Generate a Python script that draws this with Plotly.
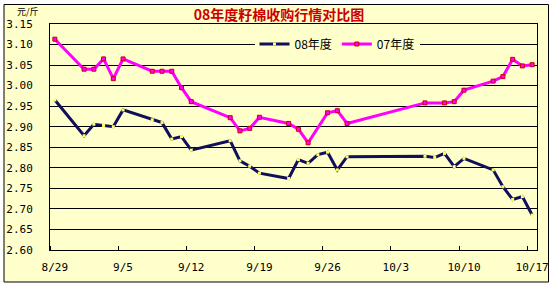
import plotly.graph_objects as go
import pandas as pd

# ---- data ----
dates_08 = ["2008-08-29", "2008-09-01", "2008-09-02", "2008-09-03", "2008-09-04", "2008-09-05",
            "2008-09-08", "2008-09-09", "2008-09-10", "2008-09-11", "2008-09-12", "2008-09-16",
            "2008-09-17", "2008-09-18", "2008-09-19", "2008-09-22", "2008-09-23", "2008-09-24",
            "2008-09-25", "2008-09-26", "2008-09-27", "2008-09-28", "2008-10-06", "2008-10-07",
            "2008-10-08", "2008-10-09", "2008-10-10", "2008-10-13", "2008-10-14", "2008-10-15",
            "2008-10-16", "2008-10-17"]
values_08 = [2.965, 2.878, 2.906, 2.903, 2.900, 2.941,
             2.917, 2.910, 2.870, 2.876, 2.843, 2.866,
             2.817, 2.804, 2.787, 2.774, 2.820, 2.811,
             2.832, 2.838, 2.795, 2.827, 2.828, 2.825,
             2.835, 2.803, 2.823, 2.795, 2.754, 2.723,
             2.730, 2.685]

dates_07 = ["2008-08-29", "2008-09-01", "2008-09-02", "2008-09-03", "2008-09-04", "2008-09-05",
            "2008-09-08", "2008-09-09", "2008-09-10", "2008-09-11", "2008-09-12", "2008-09-16",
            "2008-09-17", "2008-09-18", "2008-09-19", "2008-09-22", "2008-09-23", "2008-09-24",
            "2008-09-26", "2008-09-27", "2008-09-28", "2008-10-06", "2008-10-08", "2008-10-09",
            "2008-10-10", "2008-10-13", "2008-10-14", "2008-10-15", "2008-10-16", "2008-10-17"]
values_07 = [3.113, 3.040, 3.040, 3.065, 3.017, 3.065,
             3.035, 3.035, 3.035, 2.995, 2.961, 2.922,
             2.890, 2.896, 2.923, 2.908, 2.894, 2.861,
             2.934, 2.939, 2.908, 2.958, 2.958, 2.961,
             2.989, 3.011, 3.022, 3.064, 3.048, 3.051]

tick_dates = ["2008-08-29", "2008-09-05", "2008-09-12", "2008-09-19",
              "2008-09-26", "2008-10-03", "2008-10-10", "2008-10-17"]
tick_labels = ["8/29", "9/5", "9/12", "9/19", "9/26", "10/3", "10/10", "10/17"]

series_names = ["08年度", "07年度"]
title_text = "08年度籽棉收购行情对比图"
unit_text = "元/斤"

# ---- layout constants (pixels) ----
W, H = 560, 286
L, R, T, B = 50, 23, 24, 36
pw, ph = W - L - R, H - T - B

def px_to_paper_x(px):
    return (px - L) / pw

def px_to_paper_y(py):
    return (H - B - py) / ph

BG = "#FFFFCC"
mono = "DejaVu Sans Mono"
cjk = "Noto Sans CJK SC"

fig = go.Figure()

fig.add_trace(go.Scatter(
    x=pd.to_datetime(dates_08), y=values_08, name=series_names[0], mode="lines+markers",
    line=dict(color="#10105A", width=3),
    marker=dict(symbol="square", size=3, color="#FFFF66", line=dict(width=0)),
))
fig.add_trace(go.Scatter(
    x=pd.to_datetime(dates_07), y=values_07, name=series_names[1], mode="lines+markers",
    line=dict(color="#FF00FF", width=3),
    marker=dict(symbol="square", size=4, color="#FF00FF", line=dict(color="#CC0000", width=1)),
))

start = pd.Timestamp("2008-08-29") - pd.Timedelta(hours=12)
end = pd.Timestamp("2008-10-17") + pd.Timedelta(hours=12)

fig.update_xaxes(
    type="date",
    range=[start, end],
    tickvals=pd.to_datetime(tick_dates), ticktext=tick_labels,
    ticks="", showgrid=False, automargin=False,
    showline=True, linecolor="black", linewidth=1, mirror=True,
    tickfont=dict(family=mono, size=11, color="black"),
    ticklabelstandoff=7,
    minor=dict(tick0=start, dtick=7 * 86400000, ticks="inside", ticklen=4,
               tickcolor="black", showgrid=False),
)
fig.update_yaxes(
    range=[2.60, 3.15], dtick=0.05, tick0=2.60, tickformat=".2f",
    showgrid=True, gridcolor="black", gridwidth=1, automargin=False,
    showline=True, linecolor="black", linewidth=1, mirror=True,
    zeroline=False, ticks="",
    tickfont=dict(family=mono, size=11, color="black"),
    ticklabelstandoff=14,
)

fig.add_shape(
    type="rect", xref="paper", yref="paper", layer="below",
    x0=px_to_paper_x(4), x1=px_to_paper_x(548.5),
    y0=px_to_paper_y(282), y1=px_to_paper_y(4.5),
    fillcolor=BG, line=dict(color="black", width=1),
)

fig.add_annotation(
    text=unit_text, xref="paper", yref="paper",
    x=px_to_paper_x(28), y=px_to_paper_y(11.5), xanchor="center", yanchor="middle",
    showarrow=False, font=dict(family=cjk, size=9, color="black"),
)

fig.update_layout(
    width=W, height=H,
    margin=dict(l=L, r=R, t=T, b=B, autoexpand=False),
    paper_bgcolor="white", plot_bgcolor=BG,
    title=dict(text=title_text, x=279 / W, xanchor="center", y=1 - 15 / H, yanchor="middle",
               font=dict(family=cjk, size=14, color="#CC0000", weight="bold")),
    legend=dict(orientation="h", x=px_to_paper_x(337), xanchor="center",
                y=px_to_paper_y(44), yanchor="middle",
                bgcolor=BG, borderwidth=0, font=dict(family=cjk, size=12, color="black"),
                itemwidth=30, tracegroupgap=0),
    showlegend=True,
)

fig.write_html("out.html")
